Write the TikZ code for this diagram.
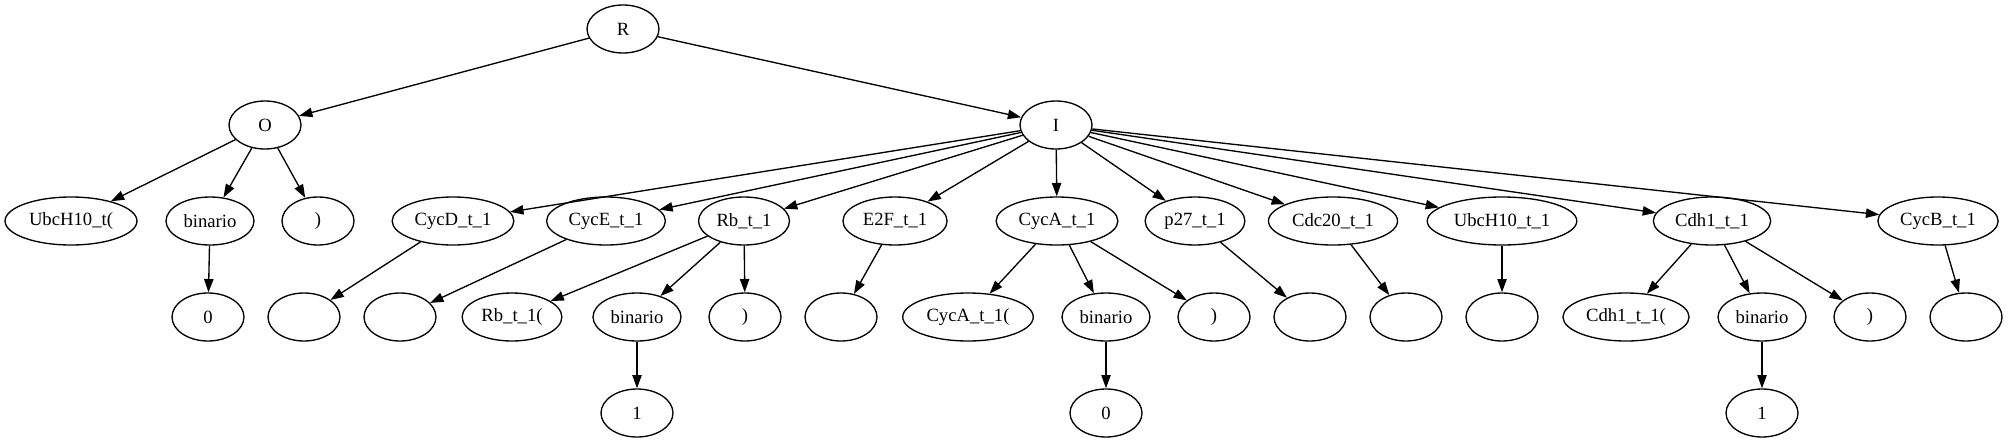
\documentclass[tikz,border=0pt]{standalone}
\usepackage{fontspec}
\setmainfont{Liberation Serif}
\usetikzlibrary{shapes.geometric,arrows.meta}

\begin{document}
\begin{tikzpicture}[x=0.75pt,y=-0.75pt,
    gnode/.style={draw,ellipse,line width=1pt,minimum width=54pt,minimum height=36pt,
      inner xsep=3.5pt,inner ysep=2pt,font=\fontsize{14}{16}\selectfont},
    link/.style={-{Triangle[length=10pt,width=7pt]},line width=1pt}]

    \useasboundingbox (0,0) rectangle (2008,443);

    % Root and first split
    \node[gnode] (R) at (623,29) {R};
    \node[gnode] (O) at (265,125) {O};
    \node[gnode] (I) at (1056,125) {I};

    % Output side
    \node[gnode] (ubcO) at (71,221) {UbcH10\_t(};
    \node[gnode] (binO) at (210,221) {binario};
    \node[gnode] (clO) at (318,221) {)};
    \node[gnode] (zeroO) at (208,317) {0};

    % Input side, one node per species
    \node[gnode] (cycD) at (453,221) {CycD\_t\_1};
    \node[gnode] (cycE) at (606,221) {CycE\_t\_1};
    \node[gnode] (rb) at (744,221) {Rb\_t\_1};
    \node[gnode] (e2f) at (895,221) {E2F\_t\_1};
    \node[gnode] (cycA) at (1057,221) {CycA\_t\_1};
    \node[gnode] (p27) at (1195,221) {p27\_t\_1};
    \node[gnode] (cdc20) at (1333,221) {Cdc20\_t\_1};
    \node[gnode] (ubcI) at (1502,221) {UbcH10\_t\_1};
    \node[gnode] (cdh1) at (1712,221) {Cdh1\_t\_1};
    \node[gnode] (cycB) at (1938,221) {CycB\_t\_1};

    % Third row
    \node[gnode] (eD) at (304,317) {};
    \node[gnode] (eE) at (400,317) {};
    \node[gnode] (rbA) at (512,317) {Rb\_t\_1(};
    \node[gnode] (rbBin) at (637,317) {binario};
    \node[gnode] (rbCl) at (745,317) {)};
    \node[gnode] (eF) at (841,317) {};
    \node[gnode] (cycAA) at (968,317) {CycA\_t\_1(};
    \node[gnode] (cycABin) at (1106,317) {binario};
    \node[gnode] (cycACl) at (1214,317) {)};
    \node[gnode] (eP) at (1310,317) {};
    \node[gnode] (eC) at (1406,317) {};
    \node[gnode] (eU) at (1502,317) {};
    \node[gnode] (cdhA) at (1626,317) {Cdh1\_t\_1(};
    \node[gnode] (cdhBin) at (1762,317) {binario};
    \node[gnode] (cdhCl) at (1870,317) {)};
    \node[gnode] (eB) at (1966,317) {};

    % Bits
    \node[gnode] (rbOne) at (637,413) {1};
    \node[gnode] (cycAZero) at (1106,413) {0};
    \node[gnode] (cdhOne) at (1762,413) {1};

    % Edges from the root
    \draw[link] (R) -- (O);
    \draw[link] (R) -- (I);

    % Edges on the output side
    \draw[link] (O) -- (ubcO);
    \draw[link] (O) -- (binO);
    \draw[link] (O) -- (clO);
    \draw[link] (binO) -- (zeroO);

    % Edges on the input side
    \draw[link] (I) -- (cycD);
    \draw[link] (I) -- (cycE);
    \draw[link] (I) -- (rb);
    \draw[link] (I) -- (e2f);
    \draw[link] (I) -- (cycA);
    \draw[link] (I) -- (p27);
    \draw[link] (I) -- (cdc20);
    \draw[link] (I) -- (ubcI);
    \draw[link] (I) -- (cdh1);
    \draw[link] (I) -- (cycB);

    % Edges down to the leaves
    \draw[link] (cycD) -- (eD);
    \draw[link] (cycE) -- (eE);
    \draw[link] (rb) -- (rbA);
    \draw[link] (rb) -- (rbBin);
    \draw[link] (rb) -- (rbCl);
    \draw[link] (rbBin) -- (rbOne);
    \draw[link] (e2f) -- (eF);
    \draw[link] (cycA) -- (cycAA);
    \draw[link] (cycA) -- (cycABin);
    \draw[link] (cycA) -- (cycACl);
    \draw[link] (cycABin) -- (cycAZero);
    \draw[link] (p27) -- (eP);
    \draw[link] (cdc20) -- (eC);
    \draw[link] (ubcI) -- (eU);
    \draw[link] (cdh1) -- (cdhA);
    \draw[link] (cdh1) -- (cdhBin);
    \draw[link] (cdh1) -- (cdhCl);
    \draw[link] (cdhBin) -- (cdhOne);
    \draw[link] (cycB) -- (eB);

\end{tikzpicture}
\end{document}
